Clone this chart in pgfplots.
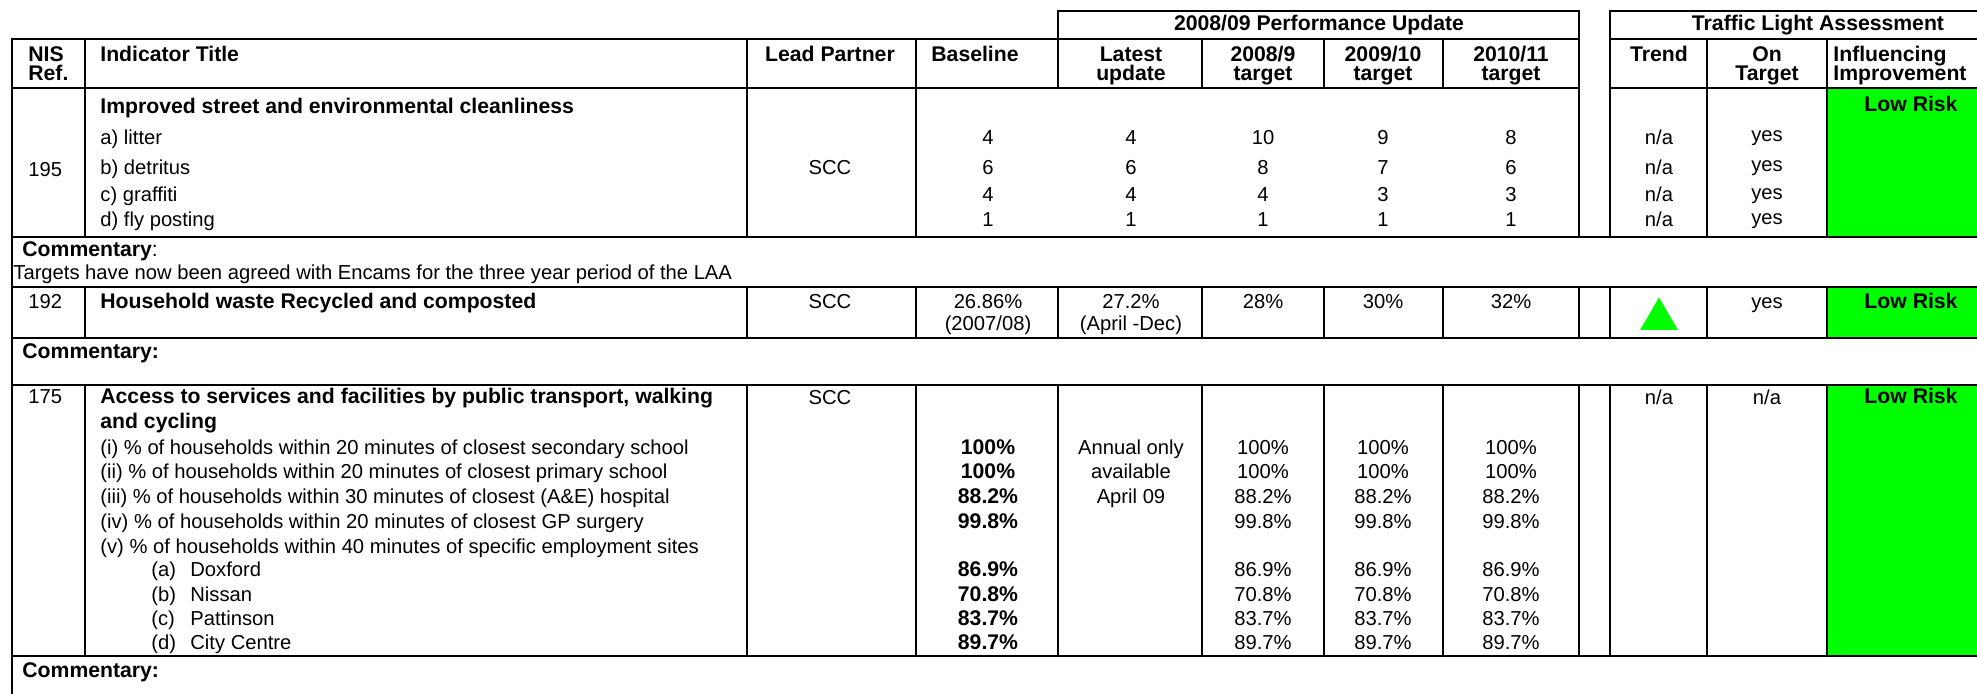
\documentclass[border=0pt]{standalone}
\usepackage{fontspec}
\setmainfont{Liberation Sans}
\usepackage{pgfplots}
\pgfplotsset{compat=1.18}
\definecolor{tlgreen}{RGB}{0,255,0}
\tikzset{
  t/.style={anchor=base, inner sep=0pt, font=\fontsize{10.1}{12.2}\selectfont},
  tb/.style={anchor=base, inner sep=0pt, font=\fontsize{10.6}{12.6}\selectfont\bfseries},
  tl/.style={anchor=base west, inner sep=0pt, font=\fontsize{10.1}{12.2}\selectfont},
  tbl/.style={anchor=base west, inner sep=0pt, font=\fontsize{10.6}{12.6}\selectfont\bfseries},
}
\begin{document}
\begin{tikzpicture}
\begin{axis}[
  at={(0,0)}, anchor=south west,
  width=988.5pt, height=347pt, scale only axis,
  xmin=0, xmax=1977, ymin=0, ymax=694, y dir=reverse,
  hide axis, clip=false, unbounded coords=jump,
]
\coordinate (c1) at (axis cs:0,0);
\coordinate (c2) at (axis cs:1977,694);
% green cells
\addplot[fill=tlgreen, draw=none] coordinates {(1827,88) (1977,88) (1977,237) (1827,237)} -- cycle;
\addplot[fill=tlgreen, draw=none] coordinates {(1827,287) (1977,287) (1977,338) (1827,338)} -- cycle;
\addplot[fill=tlgreen, draw=none] coordinates {(1827,385) (1977,385) (1977,656) (1827,656)} -- cycle;
% table rules
\addplot[black, line width=1pt, line cap=rect] coordinates {
 (1058,11) (1579,11) (nan,nan) (1610,11) (1977,11) (nan,nan)
 (12,39) (1579,39) (nan,nan) (1610,39) (1977,39) (nan,nan)
 (12,88) (1579,88) (nan,nan) (1610,88) (1977,88) (nan,nan)
 (12,237) (1977,237) (nan,nan)
 (12,287) (1977,287) (nan,nan)
 (12,338) (1977,338) (nan,nan)
 (12,385) (1977,385) (nan,nan)
 (12,656) (1977,656) (nan,nan)
 (12,39) (12,694) (nan,nan)
 (85,39) (85,237) (nan,nan) (85,287) (85,338) (nan,nan) (85,385) (85,656) (nan,nan)
 (747,39) (747,237) (nan,nan) (747,287) (747,338) (nan,nan) (747,385) (747,656) (nan,nan)
 (916,39) (916,237) (nan,nan) (916,287) (916,338) (nan,nan) (916,385) (916,656) (nan,nan)
 (1058,11) (1058,88) (nan,nan) (1058,287) (1058,338) (nan,nan) (1058,385) (1058,656) (nan,nan)
 (1202,39) (1202,88) (nan,nan) (1202,287) (1202,338) (nan,nan) (1202,385) (1202,656) (nan,nan)
 (1324,39) (1324,88) (nan,nan) (1324,287) (1324,338) (nan,nan) (1324,385) (1324,656) (nan,nan)
 (1443,39) (1443,88) (nan,nan) (1443,287) (1443,338) (nan,nan) (1443,385) (1443,656) (nan,nan)
 (1579,11) (1579,237) (nan,nan) (1579,287) (1579,338) (nan,nan) (1579,385) (1579,656) (nan,nan)
 (1610,11) (1610,237) (nan,nan) (1610,287) (1610,338) (nan,nan) (1610,385) (1610,656) (nan,nan)
 (1707,39) (1707,237) (nan,nan) (1707,287) (1707,338) (nan,nan) (1707,385) (1707,656) (nan,nan)
 (1827,39) (1827,237) (nan,nan) (1827,287) (1827,338) (nan,nan) (1827,385) (1827,656)
};
% trend marker
\addplot[only marks, mark=triangle*, mark size=10.4pt, color=tlgreen] coordinates {(1659,319)};

% header
\node[tb] at (axis cs:1319,31) {2008/09 Performance Update};
\node[tb] at (axis cs:1818,31) {Traffic Light Assessment};
\node[tbl] at (axis cs:28,62) {NIS};
\node[tbl] at (axis cs:28,81) {Ref.};
\node[tbl] at (axis cs:100,62) {Indicator Title};
\node[tb] at (axis cs:830,62) {Lead Partner};
\node[tb] at (axis cs:975,62) {Baseline};
\node[tb] at (axis cs:1131,62) {Latest};
\node[tb] at (axis cs:1131,81) {update};
\node[tb] at (axis cs:1263,62) {2008/9};
\node[tb] at (axis cs:1263,81) {target};
\node[tb] at (axis cs:1383,62) {2009/10};
\node[tb] at (axis cs:1383,81) {target};
\node[tb] at (axis cs:1511,62) {2010/11};
\node[tb] at (axis cs:1511,81) {target};
\node[tb] at (axis cs:1659,62) {Trend};
\node[tb] at (axis cs:1767,62) {On};
\node[tb] at (axis cs:1767,81) {Target};
\node[tbl] at (axis cs:1833,62) {Influencing};
\node[tbl] at (axis cs:1833,81) {Improvement};

% row 195
\node[tl] at (axis cs:28,177) {195};
\node[tbl] at (axis cs:100,114) {Improved street and environmental cleanliness};
\node[tl] at (axis cs:100,145) {a) litter};
\node[tl] at (axis cs:100,175) {b) detritus};
\node[tl] at (axis cs:100,202) {c) graffiti};
\node[tl] at (axis cs:100,227) {d) fly posting};
\node[t] at (axis cs:830,175) {SCC};
\node[t] at (axis cs:988,145) {4};
\node[t] at (axis cs:988,175) {6};
\node[t] at (axis cs:988,202) {4};
\node[t] at (axis cs:988,227) {1};
\node[t] at (axis cs:1131,145) {4};
\node[t] at (axis cs:1131,175) {6};
\node[t] at (axis cs:1131,202) {4};
\node[t] at (axis cs:1131,227) {1};
\node[t] at (axis cs:1263,145) {10};
\node[t] at (axis cs:1263,175) {8};
\node[t] at (axis cs:1263,202) {4};
\node[t] at (axis cs:1263,227) {1};
\node[t] at (axis cs:1383,145) {9};
\node[t] at (axis cs:1383,175) {7};
\node[t] at (axis cs:1383,202) {3};
\node[t] at (axis cs:1383,227) {1};
\node[t] at (axis cs:1511,145) {8};
\node[t] at (axis cs:1511,175) {6};
\node[t] at (axis cs:1511,202) {3};
\node[t] at (axis cs:1511,227) {1};
\node[t] at (axis cs:1659,145) {n/a};
\node[t] at (axis cs:1659,175) {n/a};
\node[t] at (axis cs:1659,202) {n/a};
\node[t] at (axis cs:1659,227) {n/a};
\node[t] at (axis cs:1767,142) {yes};
\node[t] at (axis cs:1767,172) {yes};
\node[t] at (axis cs:1767,200) {yes};
\node[t] at (axis cs:1767,225) {yes};
\node[tb] at (axis cs:1911,112) {Low Risk};

% commentary 1
\node[tl] at (axis cs:22,257) {\fontsize{10.6}{12.6}\selectfont\textbf{Commentary}:};
\node[tl] at (axis cs:13,280) {Targets have now been agreed with Encams for the three year period of the LAA};

% row 192
\node[tl] at (axis cs:28,309) {192};
\node[tbl] at (axis cs:100,309) {Household waste Recycled and composted};
\node[t] at (axis cs:830,309) {SCC};
\node[t] at (axis cs:988,309) {26.86\%};
\node[t] at (axis cs:988,331) {(2007/08)};
\node[t] at (axis cs:1131,309) {27.2\%};
\node[t] at (axis cs:1131,331) {(April -Dec)};
\node[t] at (axis cs:1263,309) {28\%};
\node[t] at (axis cs:1383,309) {30\%};
\node[t] at (axis cs:1511,309) {32\%};
\node[t] at (axis cs:1767,309) {yes};
\node[tb] at (axis cs:1911,309) {Low Risk};

% commentary 2
\node[tbl] at (axis cs:22,359) {Commentary:};

% row 175
\node[tl] at (axis cs:28,404) {175};
\node[tbl] at (axis cs:100,404) {Access to services and facilities by public transport, walking};
\node[tbl] at (axis cs:100,429) {and cycling};
\node[tl] at (axis cs:100,455) {(i) \% of households within 20 minutes of closest secondary school};
\node[tl] at (axis cs:100,479) {(ii) \% of households within 20 minutes of closest primary school};
\node[tl] at (axis cs:100,504) {(iii) \% of households within 30 minutes of closest (A\&E) hospital};
\node[tl] at (axis cs:100,529) {(iv) \% of households within 20 minutes of closest GP surgery};
\node[tl] at (axis cs:100,554) {(v) \% of households within 40 minutes of specific employment sites};
\node[tl] at (axis cs:151,577) {(a)};
\node[tl] at (axis cs:190,577) {Doxford};
\node[tl] at (axis cs:151,602) {(b)};
\node[tl] at (axis cs:190,602) {Nissan};
\node[tl] at (axis cs:151,626) {(c)};
\node[tl] at (axis cs:190,626) {Pattinson};
\node[tl] at (axis cs:151,650) {(d)};
\node[tl] at (axis cs:190,650) {City Centre};
\node[t] at (axis cs:830,405) {SCC};
\node[tb] at (axis cs:988,455) {100\%};
\node[tb] at (axis cs:988,479) {100\%};
\node[tb] at (axis cs:988,504) {88.2\%};
\node[tb] at (axis cs:988,529) {99.8\%};
\node[tb] at (axis cs:988,577) {86.9\%};
\node[tb] at (axis cs:988,602) {70.8\%};
\node[tb] at (axis cs:988,626) {83.7\%};
\node[tb] at (axis cs:988,650) {89.7\%};
\node[t] at (axis cs:1131,455) {Annual only};
\node[t] at (axis cs:1131,479) {available};
\node[t] at (axis cs:1131,504) {April 09};
\pgfplotsinvokeforeach{1263,1383,1511}{
  \node[t] at (axis cs:#1,455) {100\%};
  \node[t] at (axis cs:#1,479) {100\%};
  \node[t] at (axis cs:#1,504) {88.2\%};
  \node[t] at (axis cs:#1,529) {99.8\%};
  \node[t] at (axis cs:#1,577) {86.9\%};
  \node[t] at (axis cs:#1,602) {70.8\%};
  \node[t] at (axis cs:#1,626) {83.7\%};
  \node[t] at (axis cs:#1,650) {89.7\%};
}
\node[t] at (axis cs:1659,405) {n/a};
\node[t] at (axis cs:1767,405) {n/a};
\node[tb] at (axis cs:1911,404) {Low Risk};

% commentary 3
\node[tbl] at (axis cs:22,678) {Commentary:};
\end{axis}
\pgfresetboundingbox
\path[use as bounding box] (c1) rectangle (c2);
\end{tikzpicture}
\end{document}
